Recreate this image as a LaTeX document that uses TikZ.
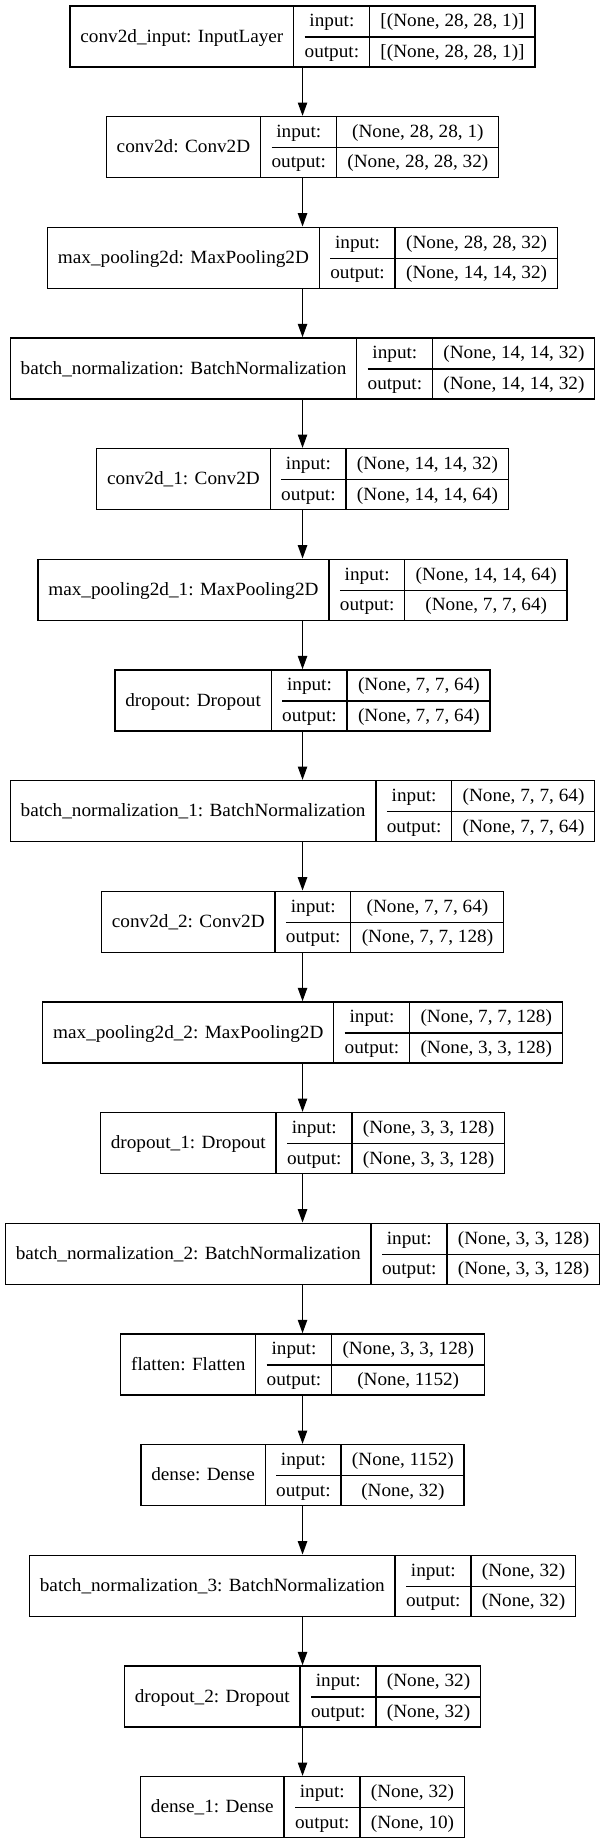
\documentclass[tikz,border=0pt]{standalone}
\usepackage{fontspec}
\setmainfont{Liberation Serif}[FakeStretch=1.03]
\usetikzlibrary{positioning,arrows.meta}

\newlength{\cpad}\setlength{\cpad}{7.75pt}
\newcommand{\rowstrut}{\rule[-7.3pt]{0pt}{22.95pt}}
\newcommand{\layerbox}[3]{%
  \setlength{\arrayrulewidth}{1pt}\renewcommand{\arraystretch}{0}%
  \begin{tabular}{@{\hspace{\cpad}}c@{\hspace{\cpad}}|@{\hspace{\cpad}}c@{\hspace{\cpad}}|@{\hspace{\cpad}}c@{\hspace{\cpad}}}
    & \rowstrut input: & #2\\ \cline{2-3}
    \raisebox{11.475pt}[0pt][0pt]{#1} & \rowstrut output: & #3
  \end{tabular}}

\begin{document}
\begin{tikzpicture}[node distance=36.1pt,
    layer/.style={draw, line width=1pt, inner sep=0pt, font=\fontsize{14pt}{16pt}\selectfont},
    link/.style={-{Triangle[length=10pt,width=7pt]}, line width=1pt}]
  \useasboundingbox (0,0) rectangle (453.75pt,-1383pt);

  \node[layer, anchor=north] (input) at (226.9pt,-3.9pt)
    {\layerbox{conv2d\_input: InputLayer}{[(None, 28, 28, 1)]}{[(None, 28, 28, 1)]}};
  \node[layer, below=of input] (conv)
    {\layerbox{conv2d: Conv2D}{(None, 28, 28, 1)}{(None, 28, 28, 32)}};
  \node[layer, below=of conv] (pool)
    {\layerbox{max\_pooling2d: MaxPooling2D}{(None, 28, 28, 32)}{(None, 14, 14, 32)}};
  \node[layer, below=of pool] (bn)
    {\layerbox{batch\_normalization: BatchNormalization}{(None, 14, 14, 32)}{(None, 14, 14, 32)}};
  \node[layer, below=of bn] (conv1)
    {\layerbox{conv2d\_1: Conv2D}{(None, 14, 14, 32)}{(None, 14, 14, 64)}};
  \node[layer, below=of conv1] (pool1)
    {\layerbox{max\_pooling2d\_1: MaxPooling2D}{(None, 14, 14, 64)}{(None, 7, 7, 64)}};
  \node[layer, below=of pool1] (drop)
    {\layerbox{dropout: Dropout}{(None, 7, 7, 64)}{(None, 7, 7, 64)}};
  \node[layer, below=of drop] (bn1)
    {\layerbox{batch\_normalization\_1: BatchNormalization}{(None, 7, 7, 64)}{(None, 7, 7, 64)}};
  \node[layer, below=of bn1] (conv2)
    {\layerbox{conv2d\_2: Conv2D}{(None, 7, 7, 64)}{(None, 7, 7, 128)}};
  \node[layer, below=of conv2] (pool2)
    {\layerbox{max\_pooling2d\_2: MaxPooling2D}{(None, 7, 7, 128)}{(None, 3, 3, 128)}};
  \node[layer, below=of pool2] (drop1)
    {\layerbox{dropout\_1: Dropout}{(None, 3, 3, 128)}{(None, 3, 3, 128)}};
  \node[layer, below=of drop1] (bn2)
    {\layerbox{batch\_normalization\_2: BatchNormalization}{(None, 3, 3, 128)}{(None, 3, 3, 128)}};
  \node[layer, below=of bn2] (flat)
    {\layerbox{flatten: Flatten}{(None, 3, 3, 128)}{(None, 1152)}};
  \node[layer, below=of flat] (dense)
    {\layerbox{dense: Dense}{(None, 1152)}{(None, 32)}};
  \node[layer, below=of dense] (bn3)
    {\layerbox{batch\_normalization\_3: BatchNormalization}{(None, 32)}{(None, 32)}};
  \node[layer, below=of bn3] (drop2)
    {\layerbox{dropout\_2: Dropout}{(None, 32)}{(None, 32)}};
  \node[layer, below=of drop2] (dense1)
    {\layerbox{dense\_1: Dense}{(None, 32)}{(None, 10)}};

  \draw[link] (input) -- (conv);
  \draw[link] (conv) -- (pool);
  \draw[link] (pool) -- (bn);
  \draw[link] (bn) -- (conv1);
  \draw[link] (conv1) -- (pool1);
  \draw[link] (pool1) -- (drop);
  \draw[link] (drop) -- (bn1);
  \draw[link] (bn1) -- (conv2);
  \draw[link] (conv2) -- (pool2);
  \draw[link] (pool2) -- (drop1);
  \draw[link] (drop1) -- (bn2);
  \draw[link] (bn2) -- (flat);
  \draw[link] (flat) -- (dense);
  \draw[link] (dense) -- (bn3);
  \draw[link] (bn3) -- (drop2);
  \draw[link] (drop2) -- (dense1);
\end{tikzpicture}
\end{document}
